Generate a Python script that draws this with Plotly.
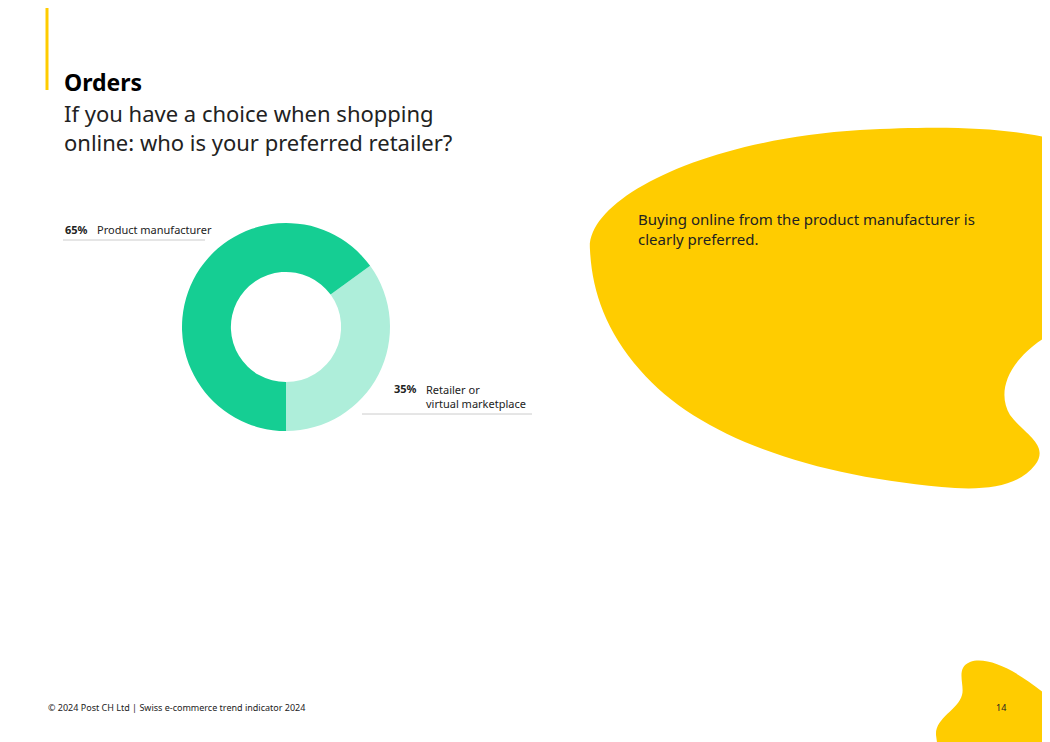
import plotly.graph_objects as go

labels = ["Retailer or virtual marketplace", "Product manufacturer"]
values = [35, 65]
colors = ["#AEEEDA", "#15CE93"]

W, H = 1050, 742
off = 8  # page body margin in the browser
font = "Noto Sans"

fig = go.Figure()
fig.add_trace(go.Pie(
    labels=labels, values=values, hole=0.53, sort=False, direction="clockwise",
    rotation=54, marker=dict(colors=colors, line=dict(width=0)),
    textinfo="none", hoverinfo="label+percent", showlegend=False,
    domain=dict(x=[(182 - off) / W, (390 - off) / W],
                y=[(H - 431 + off) / H, (H - 223 + off) / H]),
))

yellow = "#FFCC00"
blob = ("M 590,250 C 585,200 700,140 860,130 C 950,125 1010,128 1058,140 "
        "L 1058,330 C 1010,355 995,390 1010,415 C 1025,435 1050,445 1035,465 "
        "C 1020,485 990,490 955,488 C 820,478 700,440 640,370 C 605,330 592,290 590,250 Z")
small = ("M 1058,705 C 1025,675 990,655 970,662 C 955,668 965,685 962,695 "
         "C 958,710 935,718 936,735 L 938,750 L 1058,750 Z")

shapes = [
    dict(type="path", path=blob, xref="x", yref="y", fillcolor=yellow, line=dict(width=0), layer="below"),
    dict(type="path", path=small, xref="x", yref="y", fillcolor=yellow, line=dict(width=0), layer="below"),
    dict(type="line", x0=47, x1=47, y0=0, y1=90, xref="x", yref="y", line=dict(color=yellow, width=3)),
    dict(type="line", x0=63, x1=205, y0=240, y1=240, xref="x", yref="y", line=dict(color="#CCCCCC", width=1)),
    dict(type="line", x0=362, x1=532, y0=414, y1=414, xref="x", yref="y", line=dict(color="#CCCCCC", width=1)),
]

def txt(x, y, s, size, color="#222222"):
    return dict(x=x, y=y, xref="x", yref="y", text=s, showarrow=False, xanchor="left",
                yanchor="middle", align="left", font=dict(family=font, size=size, color=color))

annotations = [
    txt(62, 82, "<b>Orders</b>", 23, "#000000"),
    txt(62, 127, "If you have a choice when shopping<br>online: who is your preferred retailer?", 22, "#222222"),
    txt(63, 229, "<b>65%</b>", 11),
    txt(95, 229, "Product manufacturer", 11),
    txt(392, 388, "<b>35%</b>", 11),
    txt(424, 396, "Retailer or<br>virtual marketplace", 11),
    txt(636, 229, "Buying online from the product manufacturer is<br>clearly preferred.", 15),
    txt(46, 707, "© 2024 Post CH Ltd | Swiss e-commerce trend indicator 2024", 9),
    txt(994, 707, "14", 9),
]

fig.update_layout(
    width=W, height=H, margin=dict(l=0, r=0, t=0, b=0),
    paper_bgcolor="white", plot_bgcolor="white",
    xaxis=dict(range=[off, W + off], visible=False, fixedrange=True),
    yaxis=dict(range=[H + off, off], visible=False, fixedrange=True),
    shapes=shapes, annotations=annotations,
)
fig.write_html("out.html")
